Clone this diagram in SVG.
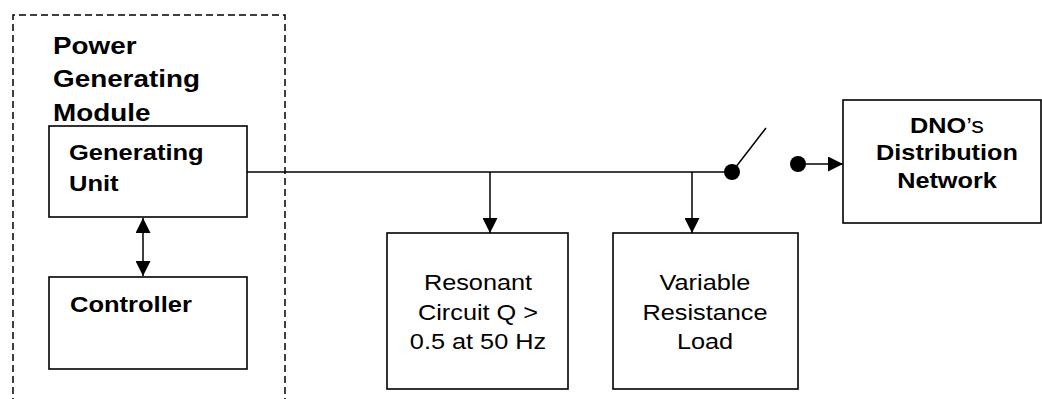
<svg xmlns="http://www.w3.org/2000/svg" width="1042" height="399" viewBox="0 0 1042 399">
<style>
.box{fill:#fff;stroke:#000;stroke-width:1.6}
.ln{fill:none;stroke:#000;stroke-width:1.5}
.dash{fill:none;stroke:#000;stroke-width:1.5;stroke-dasharray:7 4}
.b{font-family:"Liberation Sans",Arial,sans-serif;font-weight:bold;font-size:22px;fill:#000}
.r{font-family:"Liberation Sans",Arial,sans-serif;font-size:22px;fill:#000}
.t{font-family:"Liberation Sans",Arial,sans-serif;font-weight:bold;font-size:24px;fill:#000}
</style>
<defs>
<marker id="ah" viewBox="0 0 10 10" refX="10" refY="5" markerWidth="10" markerHeight="10" markerUnits="userSpaceOnUse" orient="auto-start-reverse">
<path d="M0,0 L10,5 L0,10 Z" fill="#000"/>
</marker>
<marker id="ah2" viewBox="0 0 15 15" refX="15" refY="7.5" markerWidth="15" markerHeight="15" markerUnits="userSpaceOnUse" orient="auto-start-reverse">
<path d="M0,0 L15,7.5 L0,15 Z" fill="#000"/>
</marker>
</defs>
<g id="pgm">
<path class="dash" d="M13,405 L13,15 L285,15 L285,405"/>
<text class="t" transform="translate(53,54) scale(1.16,1)"><tspan x="0" y="0">Power</tspan><tspan x="0" y="33">Generating</tspan><tspan x="0" y="67">Module</tspan></text>
</g>
<g id="generating-unit">
<rect class="box" x="49" y="126" width="198" height="91"/>
<text class="b" transform="translate(69,160) scale(1.16,1)"><tspan x="0" y="0">Generating</tspan><tspan x="0" y="31">Unit</tspan></text>
</g>
<g id="controller">
<rect class="box" x="49" y="277" width="198" height="92"/>
<text class="b" transform="translate(70,312) scale(1.16,1)">Controller</text>
</g>
<g id="resonant">
<rect class="box" x="387" y="233" width="181" height="156"/>
<text class="r" text-anchor="middle" transform="translate(478,290) scale(1.15,1)"><tspan x="0" y="0">Resonant</tspan><tspan x="0" y="30">Circuit Q &gt;</tspan><tspan x="0" y="59">0.5 at 50 Hz</tspan></text>
</g>
<g id="variable-load">
<rect class="box" x="613" y="233" width="185" height="156"/>
<text class="r" text-anchor="middle" transform="translate(705,290) scale(1.15,1)"><tspan x="0" y="0">Variable</tspan><tspan x="0" y="30">Resistance</tspan><tspan x="0" y="59">Load</tspan></text>
</g>
<g id="dno">
<rect class="box" x="843" y="100" width="198" height="123"/>
<text class="b" text-anchor="middle" transform="translate(947,133) scale(1.15,1)"><tspan x="0" y="0">DNO<tspan font-weight="normal">’s</tspan></tspan><tspan x="0" y="27">Distribution</tspan><tspan x="0" y="55">Network</tspan></text>
</g>
<g id="switch">
<circle cx="732" cy="172" r="8" fill="#000"/>
<line class="ln" x1="732" y1="172" x2="766" y2="128"/>
<circle cx="798" cy="164" r="8" fill="#000"/>
</g>
<g id="connectors">
<line class="ln" x1="247" y1="172" x2="732" y2="172"/>
<line class="ln" x1="490" y1="172" x2="490" y2="233" marker-end="url(#ah2)"/>
<line class="ln" x1="692" y1="172" x2="692" y2="233" marker-end="url(#ah2)"/>
<line class="ln" x1="143" y1="218" x2="143" y2="276" marker-start="url(#ah2)" marker-end="url(#ah2)"/>
<line class="ln" x1="798" y1="164" x2="843" y2="164" marker-end="url(#ah2)"/>
</g>
</svg>
